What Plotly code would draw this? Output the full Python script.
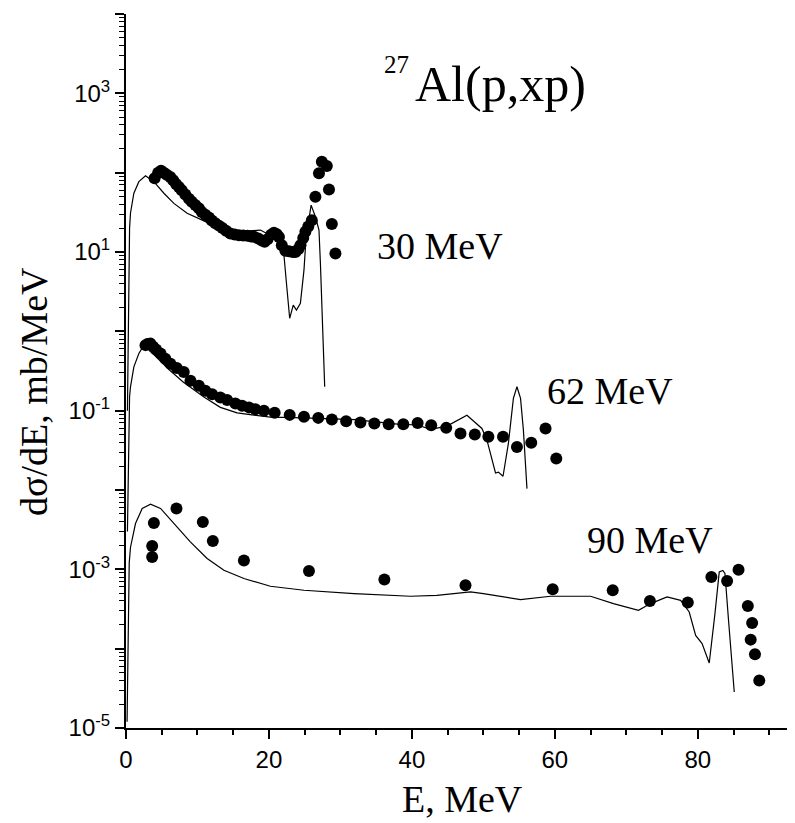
import plotly.graph_objects as go

# ---------------- data ----------------
# 30 MeV experimental points
e30_pts = [4.0, 4.5, 4.9, 5.3, 5.7, 6.2, 6.6, 7.0, 7.4, 7.8, 8.3, 8.8, 9.2, 9.7, 10.2,
           10.6, 11.1, 11.6, 12.0, 12.5, 13.0, 13.5, 14.0, 14.6, 15.2, 15.8, 16.4, 17.0,
           17.5, 17.9, 18.5, 19.0, 19.4, 19.8, 20.3, 20.7, 21.1, 21.4, 21.8, 22.3, 22.8,
           23.3, 23.7, 24.1, 24.4, 24.8, 25.1, 25.5, 26.0, 26.5, 27.0, 27.4, 28.1, 28.4,
           28.8, 29.3]
s30_pts = [85, 100, 106, 100, 94, 88, 80, 72, 66, 60, 53, 47, 43, 39, 35.5,
           32, 29.5, 27.3, 25, 23, 21.5, 20, 18.5, 17.1, 16.6, 16.3, 16.1, 16.0,
           15.7, 15.6, 14.8, 14.0, 13.5, 14.5, 16.5, 17.5, 16.8, 15.5, 12.2, 10.4, 10.2,
           10.0, 10.0, 10.8, 12.2, 15.0, 18.0, 21.0, 25.2, 49.7, 98, 137, 121, 61.5,
           22.5, 9.6]
# 30 MeV calculation
e30_calc = [0.2, 0.35, 0.5, 0.63, 1.1, 1.8, 2.73, 3.9, 5.3, 6.7, 8.55, 10.9, 13.2, 15.5,
            18.8, 19.7, 21.0, 21.6, 22.1, 22.5, 22.9, 23.4, 23.85, 24.4, 24.9, 25.2, 25.9,
            26.5, 27.0, 27.2, 27.5, 27.8]
s30_calc = [0.1, 3.0, 20, 31, 55, 77, 91.5, 77, 55, 41, 30.7, 24.7, 20.8, 18.0,
            18.9, 17.1, 15.0, 13.0, 9.1, 3.6, 1.46, 2.14, 1.85, 2.25, 5.9, 15.5, 39,
            27.8, 18.9, 7.2, 1.04, 0.2]

# 62 MeV experimental points
e62_pts = [2.73, 3.0, 3.43, 3.8, 4.2, 4.83, 5.5, 6.22, 7.1, 8.08, 9.02, 10.2, 11.1, 12.05,
           13.2, 14.15, 15.3, 16.25, 17.2, 18.1, 19.3, 20.8, 22.9, 24.9, 26.9, 28.8,
           30.8, 32.8, 34.75, 36.75, 38.8, 40.8, 42.7, 44.8, 46.8, 48.8, 50.7, 52.75,
           54.7, 56.7, 58.7, 60.2]
s62_pts = [0.67, 0.69, 0.70, 0.64, 0.59, 0.526, 0.45, 0.39, 0.345, 0.308, 0.238, 0.206,
           0.178, 0.161, 0.147, 0.136, 0.123, 0.115, 0.110, 0.104, 0.100, 0.094, 0.0885,
           0.0836, 0.0811, 0.0775, 0.0737, 0.071, 0.069, 0.0676, 0.0676, 0.070, 0.0656,
           0.0607, 0.0515, 0.050, 0.0468, 0.0468, 0.0349, 0.0393, 0.0597, 0.025]
# 62 MeV calculation
e62_calc = [0.2, 0.35, 0.5, 0.63, 1.1, 1.8, 2.5, 4.0, 6.0, 8.0, 10.9, 13.2, 15.55, 17.9,
            20.2, 24.9, 32.0, 38.0, 40.8, 42.6, 44.9, 47.7, 49.8, 50.5, 51.7, 52.1, 52.75,
            53.5, 54.2, 54.7, 55.2, 55.6, 56.1]
s62_calc = [0.003, 0.05, 0.15, 0.2, 0.357, 0.526, 0.67, 0.5, 0.33, 0.23, 0.149, 0.11,
            0.094, 0.0877, 0.083, 0.081, 0.077, 0.0676, 0.066, 0.058, 0.0638, 0.0877,
            0.0597, 0.0425, 0.0164, 0.0168, 0.0149, 0.0386, 0.1426, 0.2, 0.1426, 0.0568,
            0.0104]

# 90 MeV experimental points
e90_pts = [3.66, 3.66, 3.9, 7.06, 10.75, 12.15, 16.5, 25.6, 36.15, 47.5, 59.7, 68.1,
           73.3, 78.6, 81.9, 84.1, 85.7, 87.0, 87.6, 87.4, 88.0, 88.6]
s90_pts = [0.00143, 0.00197, 0.00385, 0.00585, 0.00396, 0.00228, 0.00129, 0.000955,
           0.000743, 0.00063, 0.000561, 0.000545, 0.0004, 0.000381, 0.0008, 0.000714,
           0.00099, 0.000345, 0.000211, 0.00013, 0.0000849, 0.0000398]
# 90 MeV calculation
e90_calc = [0.15, 0.3, 0.45, 0.63, 1.33, 2.27, 3.43, 4.83, 6.7, 9.0, 11.35, 13.7, 16.5,
            20.2, 24.9, 31.9, 39.8, 43.5, 48.2, 50.0, 55.2, 59.4, 65.0, 68.2, 71.7, 73.4,
            75.7, 77.6, 78.8, 79.7, 80.6, 81.6, 82.4, 83.0, 83.5, 83.8, 84.3, 84.8, 85.1]
s90_calc = [0.000012, 0.0002, 0.0012, 0.0019, 0.00378, 0.00585, 0.00662, 0.00585,
            0.00378, 0.00222, 0.00137, 0.000975, 0.000766, 0.000612, 0.000545,
            0.000495, 0.000458, 0.00047, 0.000519, 0.000495, 0.000416, 0.000458,
            0.000458, 0.00037, 0.000305, 0.00037, 0.000449, 0.000407, 0.00029,
            0.000147, 0.000116, 0.000066, 0.000277, 0.000927, 0.00097, 0.00089,
            0.000228, 0.0000714, 0.0000284]

x_ticks = [0, 20, 40, 60, 80]
y_decades = [1e-5, 1e-4, 1e-3, 1e-2, 1e-1, 1e0, 1e1, 1e2, 1e3, 1e4]
y_ticktext = ["10<sup>-5</sup>", "", "10<sup>-3</sup>", "", "10<sup>-1</sup>", "",
              "10<sup>1</sup>", "", "10<sup>3</sup>", ""]
labels = ["30 MeV", "62 MeV", "90 MeV"]

# ---------------- figure ----------------
OFF = 8  # page body margin around the plot div
W, H = 795 - OFF, 823 - OFF
L, R, T, B = 126 - OFF, 0, 14 - OFF, 823 - 728
X_MAX = 93.6

fig = go.Figure()
line_style = dict(color="black", width=1.2)
mk = dict(color="black", size=12, symbol="circle")
for ec, sc, ep, sp in [(e30_calc, s30_calc, e30_pts, s30_pts),
                       (e62_calc, s62_calc, e62_pts, s62_pts),
                       (e90_calc, s90_calc, e90_pts, s90_pts)]:
    fig.add_trace(go.Scatter(x=ec, y=sc, mode="lines", line=line_style,
                             showlegend=False, hoverinfo="skip"))
    fig.add_trace(go.Scatter(x=ep, y=sp, mode="markers", marker=mk,
                             showlegend=False))

minor_y = []
for n in range(-5, 4):
    for k in range(2, 10):
        minor_y.append(k * 10 ** n)

fig.update_layout(
    width=W, height=H,
    margin=dict(l=L, r=R, t=T, b=B, pad=0),
    paper_bgcolor="white", plot_bgcolor="white",
    showlegend=False,
    font=dict(family="Liberation Sans, Arial", size=24, color="black"),
)
fig.update_xaxes(
    range=[0, X_MAX], showgrid=False, zeroline=False,
    showline=True, linecolor="black", linewidth=2,
    tickmode="array", tickvals=x_ticks, ticks="outside", ticklen=9, tickwidth=2,
    tickcolor="black", tickfont=dict(family="Liberation Sans, Arial", size=24),
    minor=dict(dtick=5, ticks="outside", ticklen=5, tickwidth=1.5, tickcolor="black",
               showgrid=False),
)
fig.update_yaxes(
    type="log", range=[-5, 4], showgrid=False, zeroline=False,
    showline=True, linecolor="black", linewidth=2,
    tickmode="array", tickvals=y_decades, ticktext=y_ticktext,
    ticks="outside", ticklen=9, tickwidth=2, tickcolor="black",
    tickfont=dict(family="Liberation Sans, Arial", size=24),
    minor=dict(tickvals=minor_y, ticks="outside", ticklen=5, tickwidth=1.2,
               tickcolor="black", showgrid=False),
)

PW = W - L - R
PH = H - T - B


def px(xp):
    # page pixel x -> paper fraction
    return (xp - OFF - L) / PW


def py(yp):
    # page pixel y -> paper fraction
    return (H - B - (yp - OFF)) / PH


serif = "Liberation Serif, Times New Roman, serif"
ann = []
# axis titles
ann.append(dict(text="E, MeV", x=px(462), y=py(799), xref="paper", yref="paper",
                xanchor="center", yanchor="middle", showarrow=False,
                font=dict(family=serif, size=38)))
ann.append(dict(text="d\u03c3/dE, mb/MeV", x=px(34), y=py(392), xref="paper",
                yref="paper", xanchor="center", yanchor="middle", textangle=-90,
                showarrow=False, font=dict(family=serif, size=38)))
# reaction label
ann.append(dict(text="Al(p,xp)", x=px(413), y=py(84), xref="paper", yref="paper",
                xanchor="left", yanchor="middle", showarrow=False,
                font=dict(family=serif, size=50)))
ann.append(dict(text="27", x=px(411), y=py(65), xref="paper", yref="paper",
                xanchor="right", yanchor="middle", showarrow=False,
                font=dict(family=serif, size=25)))
# energy labels
for txt, xl, yc in zip(labels, [375, 545, 585], [246, 391, 540]):
    ann.append(dict(text=txt, x=px(xl), y=py(yc), xref="paper", yref="paper",
                    xanchor="left", yanchor="middle", showarrow=False,
                    font=dict(family=serif, size=38)))
fig.update_layout(annotations=ann)

fig.write_html("out.html")
